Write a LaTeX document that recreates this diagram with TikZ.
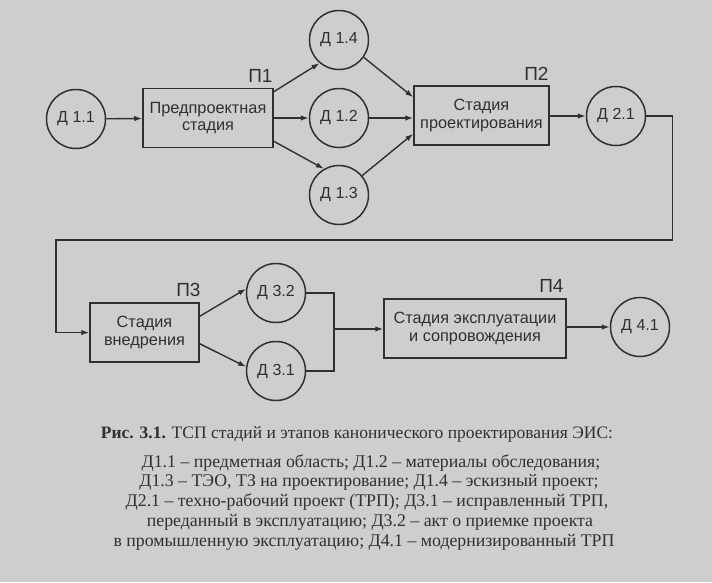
\documentclass[tikz,border=0pt]{standalone}
\usepackage{fontspec}
\setmainfont{Liberation Serif}
\setsansfont{Liberation Sans}
\usetikzlibrary{arrows.meta,calc}
\definecolor{paper}{RGB}{206,206,206}
\definecolor{ink}{RGB}{48,48,48}
\begin{document}
\begin{tikzpicture}[x=1pt,y=-1pt,
 stagebox/.style={draw=ink, line width=1.5pt, minimum width=#1, minimum height=59pt, inner sep=0pt, align=center, font=\sffamily\fontsize{16.3}{17.5}\selectfont, text=ink},
 doc/.style={circle, draw=ink, line width=1.5pt, minimum size=59pt, inner sep=0pt, font=\sffamily\fontsize{16}{18}\selectfont, text=ink},
 plabel/.style={anchor=south east, font=\sffamily\fontsize{19}{20}\selectfont, text=ink, inner sep=0pt},
 conn/.style={draw=ink, line width=1.4pt},
 arr/.style={conn, -{Latex[length=8pt,width=5.5pt]}},
 captitle/.style={font=\fontsize{17.5}{20}\selectfont, text=ink, inner sep=0pt},
 capline/.style={font=\fontsize{17.8}{20}\selectfont, text=ink, inner sep=0pt},
]
\fill[paper] (0,0) rectangle (712,582);
\useasboundingbox (0,0) rectangle (712,582);

% nodes
\node[doc] (d11) at (76,119) {Д 1.1};
\node[stagebox=130pt] (p1) at (208,118) {Предпроектная\\стадия};
\node[doc] (d14) at (339,40) {Д 1.4};
\node[doc] (d12) at (339,118) {Д 1.2};
\node[doc] (d13) at (339,195) {Д 1.3};
\node[stagebox=135pt] (p2) at (481.5,115.5) {Стадия\\проектирования};
\node[doc] (d21) at (616,116) {Д 2.1};
\node[stagebox=109pt] (p3) at (144.5,332.5) {Стадия\\внедрения};
\node[doc] (d32) at (276,293) {Д 3.2};
\node[doc] (d31) at (276,371) {Д 3.1};
\node[stagebox=182pt] (p4) at (475,328.5) {Стадия эксплуатации\\и сопровождения};
\node[doc] (d41) at (640,327) {Д 4.1};

% stage labels
\node[plabel] (l1) at ($(p1.north east)+(-1,-5)$) {П1};
\node[plabel] (l2) at ($(p2.north east)+(-1,-5)$) {П2};
\node[plabel] (l3) at ($(p3.north east)+(1,-5)$) {П3};
\node[plabel] (l4) at ($(p4.north east)+(-3,-6)$) {П4};

% junction coordinates
\coordinate (r1) at ($(d21.east)+(26,0)$);
\coordinate (r2) at (672,240);
\coordinate (r3) at (56,240);
\coordinate (j) at (334,329);

% connectors
\draw[arr] (d11) -- (p1);
\draw[arr] ($(p1.north east)+(0,4)$) -- (d14.230);
\draw[arr] (p1.east) -- (d12.west);
\draw[arr] ($(p1.south east)+(0,-7)$) -- (d13.120);
\draw[arr] (d14.-35) -- ($(p2.north west)+(0,12)$);
\draw[arr] (d12.east) -- (d12.east -| p2.west);
\draw[arr] (d13.40) -- ($(p2.south west)+(0,-12)$);
\draw[arr] (p2.east |- d21) -- (d21.west);
\draw[arr] (d21.east) -- (r1) -- (r1 |- r2) -- (r3) -- (r3 |- p3.west) -- (p3.west);
\draw[arr] ($(p3.north east)+(0,14)$) -- (d32.172);
\draw[arr] ($(p3.south east)+(0,-19)$) -- (d31.172);
\draw[conn] (d32.east) -- (d32.east -| j) -- (d31.east -| j) -- (d31.east);
\draw[arr] (j) -- (j -| p4.west);
\draw[arr] (p4.east |- d41) -- (d41.west);

% caption
\node[captitle] (cap) at (357,434) {\textbf{Рис. 3.1.} ТСП стадий и этапов канонического проектирования ЭИС:};
\node[capline] (c1) at (371,463) {Д1.1 – предметная область; Д1.2 – материалы обследования;};
\node[capline] (c2) at (369,482) {Д1.3 – ТЭО, ТЗ на проектирование; Д1.4 – эскизный проект;};
\node[capline] (c3) at (367,502) {Д2.1 – техно-рабочий проект (ТРП); Д3.1 – исправленный ТРП,};
\node[capline] (c4) at (370,522) {переданный в эксплуатацию; Д3.2 – акт о приемке проекта};
\node[capline] (c5) at (364,542) {в промышленную эксплуатацию; Д4.1 – модернизированный ТРП};
\end{tikzpicture}
\end{document}
